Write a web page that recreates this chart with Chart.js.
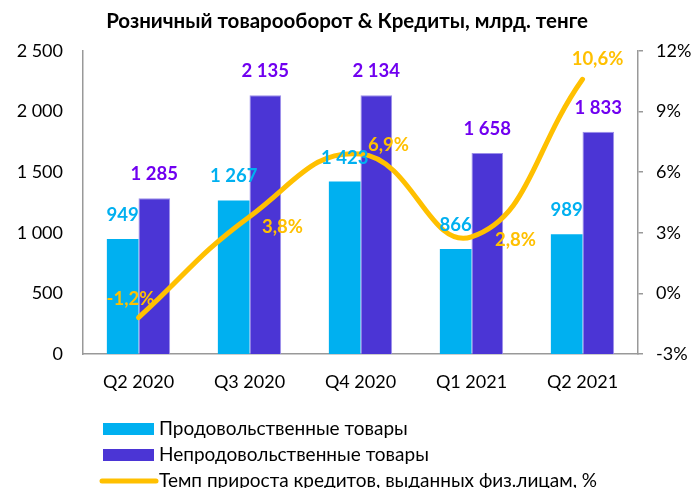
<!DOCTYPE html>
<html>
<head>
<meta charset="utf-8">
<script src="https://cdn.jsdelivr.net/npm/chart.js@4/dist/chart.umd.min.js"></script>
<style>
html,body{margin:0;padding:0;background:#fff;}
#wrap{width:695px;height:488px;position:relative;}
</style>
</head>
<body>
<div id="wrap"><canvas id="c" width="695" height="488"></canvas></div>
<script>
const categories = ["Q2 2020", "Q3 2020", "Q4 2020", "Q1 2021", "Q2 2021"];
const foodGoods = [949, 1267, 1423, 866, 989];
const nonFoodGoods = [1285, 2135, 2134, 1658, 1833];
const creditGrowth = [-1.2, 3.8, 6.9, 2.8, 10.6];
const leftTicks = [0, 500, 1000, 1500, 2000, 2500];
const rightTicks = [-3, 0, 3, 6, 9, 12];
const seriesNames = ["Продовольственные товары", "Непродовольственные товары", "Темп прироста кредитов, выданных физ.лицам, %"];
const titleText = "Розничный товарооборот & Кредиты, млрд. тенге";

const FONT = "Lato, 'Open Sans', sans-serif";
const fmtNum = n => String(n).replace(/\B(?=(\d{3})+(?!\d))/g, " ");
const fmtPct = v => String(v.toFixed(1)).replace(".", ",") + "%";

const lineLabelOffsets = [[-8, -19], [33, 10], [28, -9], [44, 3], [15, -20]];

const labelPlugin = {
  id: "labels",
  afterDatasetsDraw(chart) {
    const ctx = chart.ctx;
    ctx.save();
    ctx.font = "bold 18.5px " + FONT;
    ctx.textAlign = "center";
    ctx.textBaseline = "middle";
    const m0 = chart.getDatasetMeta(0), m1 = chart.getDatasetMeta(1), m2 = chart.getDatasetMeta(2);
    m0.data.forEach((b, i) => { ctx.fillStyle = "#00B0F0"; ctx.fillText(fmtNum(foodGoods[i]), b.x, b.y - 24); });
    m1.data.forEach((b, i) => { ctx.fillStyle = "#7000F0"; ctx.fillText(fmtNum(nonFoodGoods[i]), b.x, b.y - 24); });
    m2.data.forEach((p, i) => { ctx.fillStyle = "#FFC000"; const o = lineLabelOffsets[i]; ctx.fillText(fmtPct(creditGrowth[i]), p.x + o[0], p.y + o[1]); });
    ctx.restore();
  },
  afterDraw(chart) {
    const ctx = chart.ctx;
    ctx.save();
    ctx.font = "bold 20.5px " + FONT;
    ctx.fillStyle = "#000";
    ctx.textAlign = "center";
    ctx.textBaseline = "middle";
    ctx.fillText(titleText, 347, 21);
    ctx.font = "19px " + FONT;
    ctx.textAlign = "left";
    const rows = [429, 455, 481];
    ctx.fillStyle = "#00B0F0"; ctx.fillRect(103, 423, 51, 12);
    ctx.fillStyle = "#4B35D5"; ctx.fillRect(103, 449, 51, 12);
    ctx.strokeStyle = "#FFC000"; ctx.lineWidth = 5; ctx.lineCap = "round";
    ctx.beginPath(); ctx.moveTo(102, rows[2]); ctx.lineTo(156, rows[2]); ctx.stroke();
    ctx.fillStyle = "#000";
    seriesNames.forEach((t, i) => ctx.fillText(t, 159, rows[i]));
    ctx.restore();
  }
};

new Chart(document.getElementById("c"), {
  data: {
    labels: categories,
    datasets: [
      { type: "bar", label: seriesNames[0], data: foodGoods, backgroundColor: "#00B0F0", yAxisID: "y", order: 1, categoryPercentage: 0.57, barPercentage: 1.0 },
      { type: "bar", label: seriesNames[1], data: nonFoodGoods, backgroundColor: "#4B35D5", borderColor: "#9C8FEA", borderWidth: {top:1,left:1,right:1,bottom:0}, yAxisID: "y", order: 1, categoryPercentage: 0.57, barPercentage: 1.0 },
      { type: "line", label: seriesNames[2], data: creditGrowth, borderColor: "#FFC000", borderWidth: 5, borderCapStyle: "round", tension: 0.45, pointRadius: 0, yAxisID: "y1", order: 0 }
    ]
  },
  options: {
    responsive: false,
    animation: false,
    layout: { padding: { top: 51, bottom: 88, left: 0, right: 0 } },
    plugins: { legend: { display: false }, title: { display: false }, tooltip: { enabled: false } },
    scales: {
      x: {
        grid: { display: false, drawTicks: false },
        border: { color: "#999999", width: 1.5 },
        ticks: { color: "#000", font: { family: FONT, size: 18 }, padding: 17 },
        afterFit(s) { s.height = 46; }
      },
      y: {
        position: "left", min: 0, max: 2500,
        afterBuildTicks(s) { s.ticks = leftTicks.map(v => ({ value: v })); },
        grid: { display: false, drawTicks: false },
        border: { color: "#999999", width: 1.5 },
        ticks: { color: "#000", font: { family: FONT, size: 18 }, padding: 20, callback: v => fmtNum(v) },
        afterFit(s) { s.width = 83; }
      },
      y1: {
        position: "right", min: -3, max: 12,
        afterBuildTicks(s) { s.ticks = rightTicks.map(v => ({ value: v })); },
        grid: { display: true, drawOnChartArea: false, drawTicks: true, tickLength: 5, color: "#999999", lineWidth: 1.5 },
        border: { color: "#999999", width: 1.5 },
        ticks: { color: "#000", font: { family: FONT, size: 18 }, padding: 13, callback: v => v + "%" },
        afterFit(s) { s.width = 57; }
      }
    }
  },
  plugins: [labelPlugin]
});
</script>
</body>
</html>
